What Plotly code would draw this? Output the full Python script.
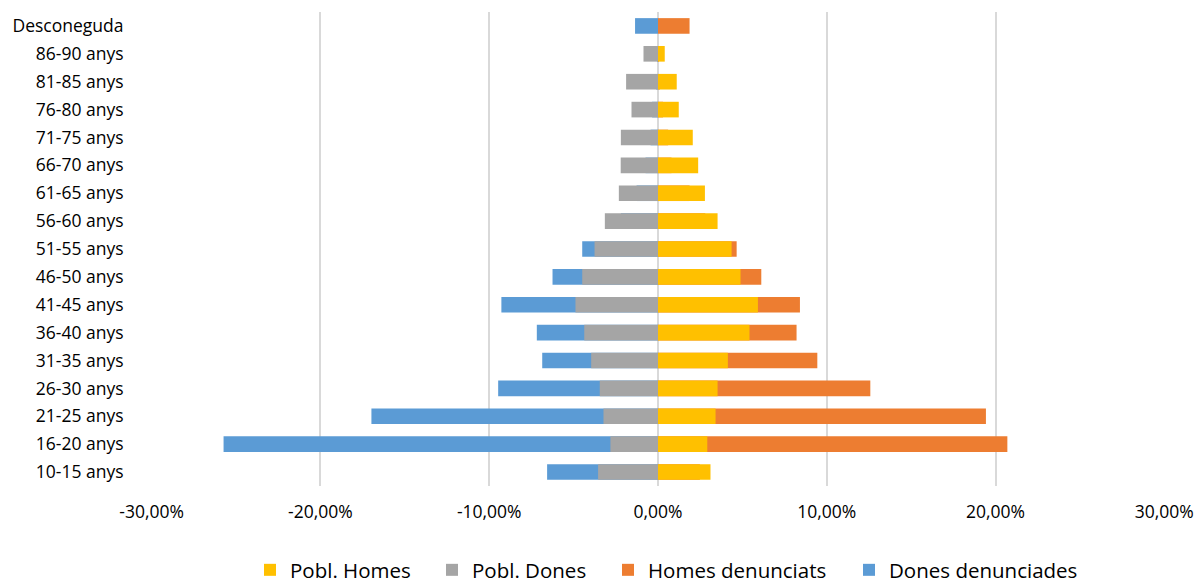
import plotly.graph_objects as go

categories = ["10-15 anys", "16-20 anys", "21-25 anys", "26-30 anys", "31-35 anys",
              "36-40 anys", "41-45 anys", "46-50 anys", "51-55 anys", "56-60 anys",
              "61-65 anys", "66-70 anys", "71-75 anys", "76-80 anys", "81-85 anys",
              "86-90 anys", "Desconeguda"]

pobl_homes = [3.11, 2.92, 3.41, 3.53, 4.14, 5.42, 5.92, 4.89, 4.36, 3.53,
              2.78, 2.38, 2.06, 1.23, 1.11, 0.40, 0.0]
pobl_dones = [-3.55, -2.82, -3.23, -3.45, -3.96, -4.37, -4.89, -4.49, -3.76, -3.15,
              -2.32, -2.21, -2.20, -1.57, -1.89, -0.86, 0.0]
homes_denunciats = [2.48, 20.70, 19.43, 12.58, 9.44, 8.21, 8.41, 6.12, 4.66, 2.80,
                    1.87, 0.80, 0.60, 0.30, 0.10, 0.05, 1.87]
dones_denunciades = [-6.57, -25.74, -16.98, -9.47, -6.86, -7.18, -9.28, -6.25, -4.49, -2.20,
                     -1.27, -0.74, -0.44, -0.35, -0.10, -0.05, -1.36]

tick_values = [-30, -20, -10, 0, 10, 20, 30]
tick_labels = ["-30,00%", "-20,00%", "-10,00%", "0,00%", "10,00%", "20,00%", "30,00%"]

FONT = "Open Sans, sans-serif"
bar_w = 0.56
W, H = 1198, 587

fig = go.Figure()
# denunciats behind, population drawn on top (overlay)
fig.add_trace(go.Bar(y=categories, x=homes_denunciats, orientation="h", name="Homes denunciats",
                     marker=dict(color="#ED7D31", line=dict(width=0)), width=bar_w, legend="legend3"))
fig.add_trace(go.Bar(y=categories, x=dones_denunciades, orientation="h", name="Dones denunciades",
                     marker=dict(color="#5B9BD5", line=dict(width=0)), width=bar_w, legend="legend4"))
fig.add_trace(go.Bar(y=categories, x=pobl_homes, orientation="h", name="Pobl. Homes",
                     marker=dict(color="#FFC000", line=dict(width=0)), width=bar_w, legend="legend"))
fig.add_trace(go.Bar(y=categories, x=pobl_dones, orientation="h", name="Pobl. Dones",
                     marker=dict(color="#A5A5A5", line=dict(width=0)), width=bar_w, legend="legend2"))


def leg(text_left_px):
    return dict(orientation="h", x=(text_left_px - 42) / W, xanchor="left", xref="container",
                y=1 - 570 / H, yanchor="middle", yref="container",
                font=dict(family=FONT, size=20.5, color="black"),
                bgcolor="rgba(0,0,0,0)", itemsizing="constant")


fig.update_layout(
    width=W, height=H,
    barmode="overlay",
    plot_bgcolor="white", paper_bgcolor="white",
    margin=dict(l=151, r=33, t=12, b=101, autoexpand=False),
    font=dict(family=FONT, size=17.5, color="black"),
    xaxis=dict(range=[-30.04, 30.04], tickvals=tick_values, ticktext=tick_labels,
               showgrid=True, gridcolor="#D9D9D9", gridwidth=1.5,
               zeroline=True, zerolinecolor="#D9D9D9", zerolinewidth=2,
               showline=False, ticks="outside", ticklen=10, tickcolor="rgba(0,0,0,0)",
               tickfont=dict(family=FONT, size=17.5, color="black"),
               automargin=False, fixedrange=True),
    yaxis=dict(type="category", categoryorder="array", categoryarray=categories,
               range=[-0.5, 16.5], showgrid=False, zeroline=False, showline=False,
               ticks="outside", ticklen=23, tickcolor="rgba(0,0,0,0)",
               tickfont=dict(family=FONT, size=17.5, color="black"),
               automargin=False, fixedrange=True),
    legend=leg(292),
    legend2=leg(474),
    legend3=leg(650),
    legend4=leg(891),
    showlegend=True,
)

fig.write_html("out.html", config={"displayModeBar": False},
               post_script="document.body.style.margin='0';document.body.style.overflow='hidden';")
